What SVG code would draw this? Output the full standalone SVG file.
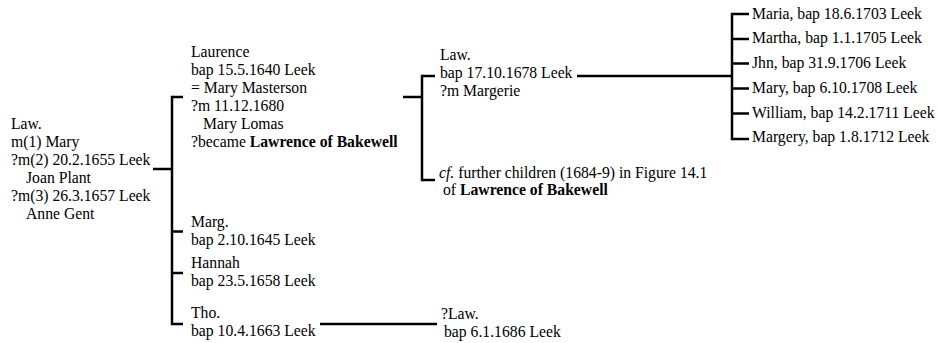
<svg xmlns="http://www.w3.org/2000/svg" width="938" height="343" viewBox="0 0 938 343">
<style>
text{font-size:15.7px;fill:#000}
.b{font-weight:bold}
.i{font-style:italic}
.c line{stroke:#000;stroke-width:2.5}
</style>
<rect width="938" height="343" fill="#fff"/>
<g class="c" id="connectors">
<line x1="153" y1="169" x2="172" y2="169"/>
<line x1="172" y1="95.8" x2="172" y2="325.2"/>
<line x1="172" y1="97" x2="183" y2="97"/>
<line x1="172" y1="231.5" x2="183" y2="231.5"/>
<line x1="172" y1="273" x2="183" y2="273"/>
<line x1="172" y1="324" x2="183" y2="324"/>
<line x1="320" y1="324" x2="437" y2="324"/>
<line x1="403" y1="97" x2="422" y2="97"/>
<line x1="422" y1="74.8" x2="422" y2="181.2"/>
<line x1="422" y1="76" x2="435" y2="76"/>
<line x1="422" y1="180" x2="435" y2="180"/>
<line x1="577" y1="76" x2="732" y2="76"/>
<line x1="732" y1="12.8" x2="732" y2="140.2"/>
<line x1="732" y1="14" x2="749" y2="14"/>
<line x1="732" y1="39" x2="749" y2="39"/>
<line x1="732" y1="63.5" x2="749" y2="63.5"/>
<line x1="732" y1="88.5" x2="749" y2="88.5"/>
<line x1="732" y1="113.5" x2="749" y2="113.5"/>
<line x1="732" y1="139" x2="749" y2="139"/>
</g>
<g font-family="Liberation Serif, Times New Roman, serif">
<g id="law_sen">
<text x="11" y="129">Law.</text>
<text x="11" y="147">m(1) Mary</text>
<text x="11" y="165">?m(2) 20.2.1655 Leek</text>
<text x="26" y="183">Joan Plant</text>
<text x="11" y="201">?m(3) 26.3.1657 Leek</text>
<text x="26" y="219">Anne Gent</text>
</g>
<g id="laurence">
<text x="191" y="57">Laurence</text>
<text x="191" y="75">bap 15.5.1640 Leek</text>
<text x="191" y="93">= Mary Masterson</text>
<text x="191" y="111">?m 11.12.1680</text>
<text x="203" y="129">Mary Lomas</text>
<text x="191" y="147">?became <tspan class="b">Lawrence of Bakewell</tspan></text>
</g>
<g id="marg">
<text x="191" y="227">Marg.</text>
<text x="191" y="245">bap 2.10.1645 Leek</text>
</g>
<g id="hannah">
<text x="191" y="268">Hannah</text>
<text x="191" y="286">bap 23.5.1658 Leek</text>
</g>
<g id="tho">
<text x="191" y="318">Tho.</text>
<text x="191" y="336">bap 10.4.1663 Leek</text>
</g>
<g id="qlaw">
<text x="441" y="319">?Law.</text>
<text x="444" y="337">bap 6.1.1686 Leek</text>
</g>
<g id="law_jun">
<text x="440" y="60">Law.</text>
<text x="440" y="78">bap 17.10.1678 Leek</text>
<text x="440" y="96">?m Margerie</text>
</g>
<g id="cf">
<text x="439" y="178"><tspan class="i">cf.</tspan> further children (1684-9) in Figure 14.1</text>
<text x="443" y="195">of <tspan class="b">Lawrence of Bakewell</tspan></text>
</g>
<g id="maria"><text x="752" y="18.5">Maria, bap 18.6.1703 Leek</text></g>
<g id="martha"><text x="752" y="43.3">Martha, bap 1.1.1705 Leek</text></g>
<g id="jhn"><text x="752" y="68">Jhn, bap 31.9.1706 Leek</text></g>
<g id="mary"><text x="752" y="92.8">Mary, bap 6.10.1708 Leek</text></g>
<g id="william"><text x="752" y="117.6">William, bap 14.2.1711 Leek</text></g>
<g id="margery"><text x="752" y="142.4">Margery, bap 1.8.1712 Leek</text></g>
</g>
</svg>
